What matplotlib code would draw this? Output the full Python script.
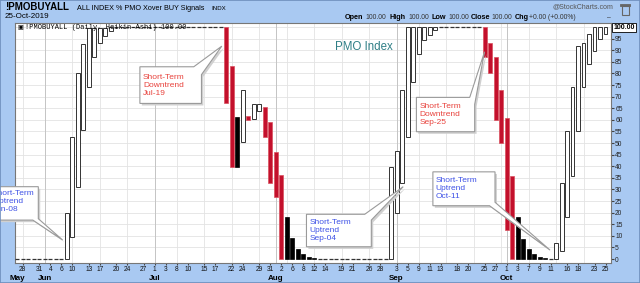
import numpy as np
import pandas as pd
import matplotlib
matplotlib.use("Agg")
import matplotlib.pyplot as plt
from matplotlib.patches import Polygon, Rectangle
from matplotlib.transforms import blended_transform_factory

plt.rcParams['font.family'] = ['Liberation Sans', 'DejaVu Sans']

# trading days on the chart (market holidays skipped)
holidays = ["2019-05-27", "2019-07-04", "2019-09-02"]
days = pd.bdate_range("2019-05-24", "2019-10-25")
days = days[~days.isin(pd.to_datetime(holidays))]

# Heikin-Ashi bodies (open, close)
may_open = [0, 0, 0, 0, 0]
may_close = [0, 0, 0, 0, 0]
jun_open = [0, 0, 0, 0, 0, 9.6, 31.2, 55.6, 74.3, 87, 93.2, 96, 98.5,
            100, 100, 100, 100, 100, 100, 100]
jun_close = [0, 0, 0, 0, 19.7, 52.7, 80, 92.7, 99.7, 99.4, 99.6, 99.8, 100,
             100, 100, 100, 100, 100, 100, 100]
jul_open = [100, 100, 100, 100, 100, 100, 100, 100, 100, 100, 100, 100, 100,
            100, 83.2, 61.3, 50.3, 61.8, 60.5, 63.8, 65.4, 59.2]
jul_close = [100, 100, 100, 100, 100, 100, 100, 100, 100, 100, 100, 100, 100,
             67.1, 39.8, 39.8, 72.8, 59.9, 66.8, 66.8, 52.5, 32.6]
aug_open = [46, 36.2, 18, 8.9, 4.2, 2, 1, 0.5,
            0, 0, 0, 0, 0, 0, 0, 0, 0, 0, 0, 0, 0, 0]
aug_close = [26.9, 0, 0, 0, 0, 0, 0, 0,
             0, 0, 0, 0, 0, 0, 0, 0, 0, 0, 0, 0, 0, 39.8]
sep_open = [19.7, 32.9, 52.7, 76.4, 88.4, 94.6, 96.4, 98.6,
            100, 100, 100, 100, 100, 100, 100, 100, 100, 93, 87, 73]
sep_close = [46.7, 72.8, 100, 100, 100, 100, 100, 100,
             100, 100, 100, 100, 100, 100, 100, 100, 87, 80, 60, 50]
oct_open = [61, 36, 18, 8.6, 4.2, 2.2, 1, 0.5, 0, 0, 3.5, 18, 36, 55, 74.3,
            84, 89.5, 94.8, 97]
oct_close = [12.5, 0, 0, 0, 0, 0, 0, 0, 0, 7, 33, 55, 74.3, 92, 93, 97,
             100, 100, 100]

# x-axis labels
tick_days = ["2019-05-28", "2019-05-31", "2019-06-04", "2019-06-06", "2019-06-10",
             "2019-06-13", "2019-06-17", "2019-06-20", "2019-06-24", "2019-06-27",
             "2019-07-01", "2019-07-03", "2019-07-08", "2019-07-10", "2019-07-15",
             "2019-07-17", "2019-07-22", "2019-07-24", "2019-07-29", "2019-07-31",
             "2019-08-02", "2019-08-06", "2019-08-08", "2019-08-12", "2019-08-14",
             "2019-08-19", "2019-08-21", "2019-08-26", "2019-08-28", "2019-09-03",
             "2019-09-05", "2019-09-09", "2019-09-11", "2019-09-13", "2019-09-18",
             "2019-09-20", "2019-09-25", "2019-09-27", "2019-10-01", "2019-10-03",
             "2019-10-07", "2019-10-09", "2019-10-11", "2019-10-16", "2019-10-18",
             "2019-10-23", "2019-10-25"]
month_names = ["May", "Jun", "Jul", "Aug", "Sep", "Oct"]

opens = np.array(may_open + jun_open + jul_open + aug_open + sep_open + oct_open, float)
closes = np.array(may_close + jun_close + jul_close + aug_close + sep_close + oct_close, float)
x = np.arange(len(days))
prev = np.r_[closes[0], closes[:-1]]

BLUE = '#a9c9f2'
fig = plt.figure(figsize=(6.4, 2.83), dpi=100)
fig.patch.set_facecolor(BLUE)


def fx(px):
    return px / 640


def fy(py):
    return 1 - py / 283


ax = fig.add_axes([fx(15), fy(263), fx(611) - fx(15), fy(22.7) - fy(263)])
ax.set_facecolor('white')
ax.set_xlim(-0.42, 108.0)
ax.set_ylim(-1.7, 101.9)

# grid: every 5 units, weekly and monthly verticals
for v in range(5, 101, 5):
    ax.axhline(v, color='#e3e3e3', lw=0.6, zorder=0)
for i in range(1, len(days)):
    if days[i].month != days[i - 1].month:
        ax.axvline(i, color='#c4c4c4', lw=0.7, zorder=0)
    elif days[i].weekday() < days[i - 1].weekday():
        ax.axvline(i, color='#e3e3e3', lw=0.6, zorder=0)

# Heikin-Ashi candles
up = closes > opens
down = closes < opens
flat = closes == opens
red = down & (closes < prev)
black = down & ~red
w = 0.72
ax.bar(x[up], closes[up] - opens[up], bottom=opens[up], width=w,
       color='white', edgecolor='#333333', lw=0.7, zorder=3)
ax.bar(x[red], closes[red] - opens[red], bottom=opens[red], width=w,
       color='#c3102c', edgecolor='#d9505e', lw=0.5, zorder=3)
ax.bar(x[black], closes[black] - opens[black], bottom=opens[black], width=w,
       color='black', edgecolor='black', lw=0.5, zorder=3)
ax.hlines(closes[flat], x[flat] - w / 2, x[flat] + w / 2, color='#333333', lw=0.9, zorder=3)

# axes styling
for s in ax.spines.values():
    s.set_color('#777777')
    s.set_linewidth(0.8)
ax.yaxis.tick_right()
ax.set_yticks(range(0, 100, 5))
ax.tick_params(axis='y', labelsize=4.8, length=2, pad=1, color='#444444', labelcolor='#222222')
tick_pos = days.get_indexer(pd.to_datetime(tick_days))
ax.set_xticks(tick_pos, [str(days[i].day) for i in tick_pos])
ax.tick_params(axis='x', labelsize=4.8, length=1.5, pad=0.8, color='#444444', labelcolor='#111111')

tr = blended_transform_factory(ax.transData, ax.transAxes)
month_pos = [0] + [i for i in range(1, len(days)) if days[i].month != days[i - 1].month]
for name, i in zip(month_names, month_pos):
    ax.text(i, -0.0635, name, transform=tr, ha='center', va='center',
            fontsize=5.8, fontweight='bold', clip_on=False)

# last value tag on the right axis
ty = blended_transform_factory(ax.transAxes, ax.transData)
ax.text(1.004, closes[-1], "100.00", transform=ty, fontsize=5, fontweight='bold',
        va='center', ha='left', clip_on=False,
        bbox=dict(boxstyle='square,pad=0.15', fc='white', ec='black', lw=0.6))


# callouts
def callout(x0, x1, y0, y1, tip, corner, text, color, tx, tyc, ex=1.2, ey=3.0):
    if corner == 'tr':
        verts = [(x0, y0), (x1, y0), (x1, y1 - ey), tip, (x1 - ex, y1), (x0, y1)]
    else:
        verts = [(x0, y0), (x1 - ex, y0), tip, (x1, y0 + ey), (x1, y1), (x0, y1)]
    shadow = [(vx + 0.35, vy - 0.9) for vx, vy in verts]
    ax.add_patch(Polygon(shadow, closed=True, fc='#d0d0d0', ec='none', zorder=5, clip_on=False))
    ax.add_patch(Polygon(verts, closed=True, fc='white', ec='#9a9a9a', lw=0.8, zorder=6, clip_on=False))
    ax.text(tx, tyc, text, color=color, fontsize=6, ha='left', va='center',
            linespacing=1.2, zorder=7, clip_on=False)


RED_T = '#e8433d'
BLUE_T = '#3f52e6'
callout(-10.4, 3.82, 16.8, 31.2, (8.25, 8.2), 'br', "Short-Term\nUptrend\nJun-08",
        BLUE_T, -4.42, 24.6, ex=1.0, ey=0.6)
callout(22.3, 33.5, 67.1, 82.9, (37.2, 91.8), 'tr', "Short-Term\nDowntrend\nJul-19",
        RED_T, 22.85, 75.0, ex=1.4, ey=3.4)
callout(52.6, 64.4, 5.3, 19.3, (70.2, 31.2), 'tr', "Short-Term\nUptrend\nSep-04",
        BLUE_T, 53.2, 12.2, ex=1.2, ey=2.5)
callout(72.6, 83.2, 54.9, 69.7, (85.0, 89.4), 'tr', "Short-Term\nDowntrend\nSep-25",
        RED_T, 73.2, 62.4, ex=0.9, ey=3.0)
callout(75.6, 86.9, 23.0, 37.6, (96.9, 3.9), 'br', "Short-Term\nUptrend\nOct-11",
        BLUE_T, 76.1, 30.5, ex=1.0, ey=1.5)

ax.text(57.8, 91.5, "PMO Index", color='#2f7f86', fontsize=8.3, ha='left', va='center', zorder=7)

# legend line inside the chart
fig.text(fx(17), fy(27.5), "\u25a3", fontsize=4.5, va='center', family='DejaVu Sans')
fig.text(fx(25), fy(27.5), "!PMOBUYALL (Daily, Heikin-Ashi) 100.00", fontsize=5,
         va='center', family='Liberation Mono')

# header
fig.text(fx(5), fy(7.4), "!PMOBUYALL", fontsize=7.0, fontweight='bold', va='center')
fig.text(fx(77), fy(8.2), "ALL INDEX % PMO Xover BUY Signals", fontsize=5.2, va='center')
fig.text(fx(211), fy(8.2), "INDX", fontsize=4.4, va='center')
fig.text(fx(5), fy(16.4), "25-Oct-2019", fontsize=5.8, va='center')
fig.text(fx(613), fy(6.8), "@StockCharts.com", fontsize=5, ha='right', va='center', color='#555555')

quote = [(345, "Open", True), (365, "100.00", False), (390, "High", True), (408.3, "100.00", False),
         (431, "Low", True), (448.3, "100.00", False), (470.7, "Close", True), (491.7, "100.00", False),
         (515, "Chg", True), (529.3, "+0.00 (+0.00%)", False), (606.7, "\u2013", False)]
for px, s, bold in quote:
    fig.text(fx(px), fy(17.3), s, fontsize=5.2 if bold else 4.9,
             fontweight='bold' if bold else 'normal', va='center',
             color='black' if bold else '#333333')

# little trash-can icon
fig.add_artist(Rectangle((fx(621.5), fy(15)), fx(7), fy(6) - fy(15), transform=fig.transFigure,
                         fc='none', ec='#666666', lw=0.8))
fig.add_artist(Rectangle((fx(620), fy(5.5)), fx(10), fy(4.5) - fy(5.5), transform=fig.transFigure,
                         fc='#666666', ec='#666666', lw=0.6))
# frame border
fig.add_artist(Rectangle((0, 0), 1, 1, transform=fig.transFigure, fc='none', ec='#6f8fbd', lw=1.2))

fig.savefig("out.png", dpi=100, facecolor=fig.get_facecolor())
